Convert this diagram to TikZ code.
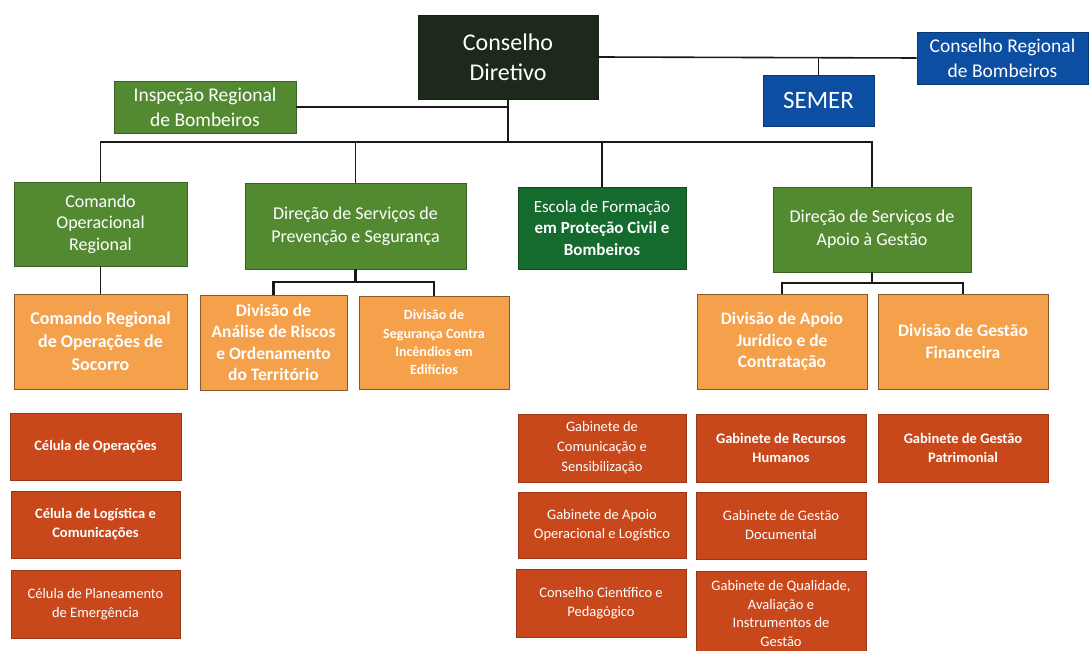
\documentclass[tikz,border=0pt]{standalone}
\usepackage{fontspec}
\setmainfont{Carlito}
\definecolor{cdark}{HTML}{1D2A1B}
\definecolor{cgreen}{HTML}{538A31}
\definecolor{cescola}{HTML}{156B2E}
\definecolor{cblue}{HTML}{0B4EA2}
\definecolor{corange}{HTML}{F5A04A}
\definecolor{cred}{HTML}{C8481C}
\tikzset{
  box/.style={inner sep=1pt, align=center, text=white, line width=0.8pt},
  darkbox/.style={box, fill=cdark, draw=cdark!80!black, font=\fontsize{24}{30}\selectfont},
  grnbox/.style={box, fill=cgreen, draw=cgreen!70!black},
  escbox/.style={box, fill=cescola, draw=cescola!70!black, font=\fontsize{17}{21.5}\selectfont},
  blubox/.style={box, fill=cblue, draw=cblue!70!black},
  orgbox/.style={box, fill=corange, draw=corange!55!black, font=\bfseries\fontsize{17.5}{21.5}\selectfont},
  redbox/.style={box, fill=cred, draw=cred!75!black, font=\fontsize{14.5}{19}\selectfont},
  link/.style={draw=black!90, line width=1.6pt},
  sublink/.style={draw=black!90, line width=2.4pt}
}
\begin{document}
\begin{tikzpicture}[x=1pt,y=-1pt]
\fill[white] (0,0) rectangle (1091,650);
\useasboundingbox (0,0) rectangle (1091,650);

% top level
\node[darkbox, minimum width=180pt, minimum height=84pt] (cd) at (508,57) {Conselho\\Diretivo};
\node[grnbox, minimum width=182pt, minimum height=52pt, font=\fontsize{19.5}{25}\selectfont] (irb) at (205,107) {Inspeção Regional\\de Bombeiros};
\node[blubox, minimum width=171pt, minimum height=52pt, font=\fontsize{19.5}{25}\selectfont] (crb) at (1002.5,58) {Conselho Regional\\de Bombeiros};
\node[blubox, minimum width=111pt, minimum height=51pt, font=\fontsize{25}{30}\selectfont] (semer) at (818.5,100.5) {SEMER};

% second level
\node[grnbox, minimum width=173pt, minimum height=84pt, font=\fontsize{18}{21.5}\selectfont] (cor) at (100.5,224) {Comando\\Operacional\\Regional};
\node[grnbox, minimum width=221pt, minimum height=86pt, font=\fontsize{18}{23}\selectfont] (dsps) at (355.5,226) {Direção de Serviços de\\Prevenção e Segurança};
\node[escbox, minimum width=168pt, minimum height=82pt] (efpc) at (602,228) {Escola de Formação\\\textbf{em Proteção Civil e}\\\textbf{Bombeiros}};
\node[grnbox, minimum width=198pt, minimum height=85pt, font=\fontsize{18}{23}\selectfont] (dsag) at (872,229.5) {Direção de Serviços de\\Apoio à Gestão};

% third level (orange)
\node[orgbox, minimum width=173pt, minimum height=95pt, font=\bfseries\fontsize{18}{23}\selectfont] (cros) at (100.5,341.5) {Comando Regional\\de Operações de\\Socorro};
\node[orgbox, minimum width=147pt, minimum height=95pt] (dar) at (273.5,342.5) {Divisão de\\Análise de Riscos\\e Ordenamento\\do Território};
\node[orgbox, minimum width=150pt, minimum height=93pt, font=\bfseries\fontsize{14}{18.3}\selectfont] (dsci) at (434,342.5) {Divisão de\\Segurança Contra\\Incêndios em\\Edifícios};
\node[orgbox, minimum width=170pt, minimum height=95pt] (dajc) at (782,341.5) {Divisão de Apoio\\Jurídico e de\\Contratação};
\node[orgbox, minimum width=170pt, minimum height=95pt] (dgf) at (963,341.5) {Divisão de Gestão\\Financeira};

% fourth level (red)
\node[redbox, minimum width=171pt, minimum height=67pt, font=\bfseries\fontsize{14.5}{19}\selectfont] (c1) at (95.5,446.5) {Célula de Operações};
\node[redbox, minimum width=169pt, minimum height=67pt, font=\bfseries\fontsize{14.5}{19}\selectfont] (c2) at (95.5,524.5) {Célula de Logística e\\Comunicações};
\node[redbox, minimum width=169pt, minimum height=68pt] (c3) at (95.5,604) {Célula de Planeamento\\de Emergência};

\node[redbox, minimum width=168pt, minimum height=68pt, font=\fontsize{14.5}{20}\selectfont] (g1) at (602,448) {Gabinete de\\Comunicação e\\Sensibilização};
\node[redbox, minimum width=168pt, minimum height=66pt] (g2) at (602,525) {Gabinete de Apoio\\Operacional e Logístico};
\node[redbox, minimum width=170pt, minimum height=68pt] (g3) at (601,603) {Conselho Científico e\\Pedagógico};

\node[redbox, minimum width=170pt, minimum height=68pt, font=\bfseries\fontsize{14.5}{19}\selectfont] (g4) at (781,448) {Gabinete de Recursos\\Humanos};
\node[redbox, minimum width=170pt, minimum height=67pt] (g5) at (781,525.5) {Gabinete de Gestão\\Documental};
\node[redbox, minimum width=170pt, minimum height=85pt, font=\fontsize{14.5}{18.5}\selectfont] (g6) at (781,613.5) {Gabinete de Qualidade,\\Avaliação e\\Instrumentos de\\Gestão};

\node[redbox, minimum width=170pt, minimum height=68pt, font=\bfseries\fontsize{14.5}{19}\selectfont] (g7) at (963,448) {Gabinete de Gestão\\Patrimonial};

% connectors
\coordinate (bus) at (0,142);
\coordinate (b2) at (0,282);
\coordinate (b3) at (0,283);

\draw[link] (irb.east) -- (irb.east -| cd.south);
\draw[link] (cd.east) -- (crb.west);
\draw[link] (semer.north) -- (semer.north |- cd.east);
\draw[link] (cd.south) -- (cd.south |- bus);
\draw[link] (cor.north) -- (cor.north |- bus) -| (dsag.north);
\draw[link] (dsps.north) -- (dsps.north |- bus);
\draw[link] (efpc.north) -- (efpc.north |- bus);

\draw[link] (cor.south) -- (cros.north);

\draw[sublink] (dsps.south) -- (dsps.south |- b2);
\draw[sublink] (dar.north) -- (dar.north |- b2) -| (dsci.north);

\draw[sublink] (dsag.south) -- (dsag.south |- b3);
\draw[sublink] (dajc.north) -- (dajc.north |- b3) -| (dgf.north);
\end{tikzpicture}
\end{document}
